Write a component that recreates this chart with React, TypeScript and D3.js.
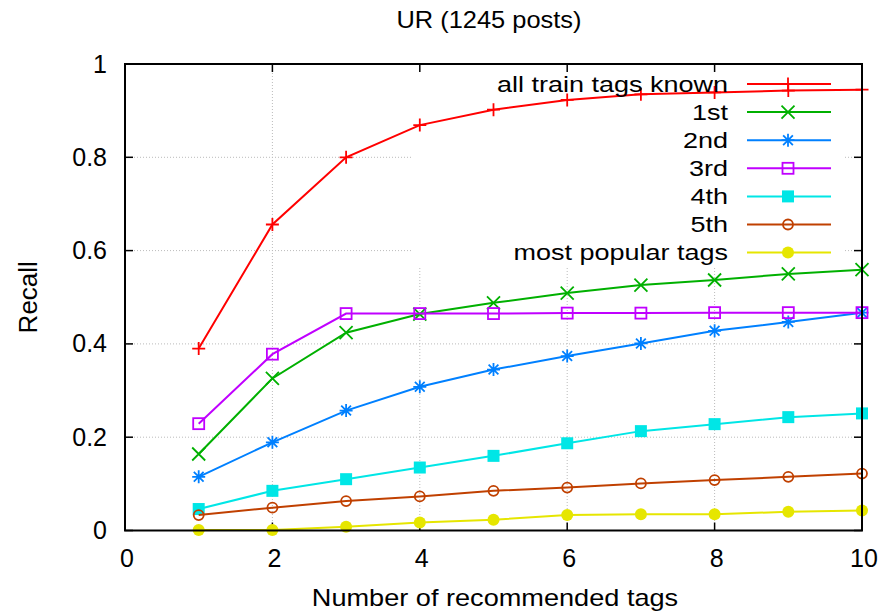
import React from "react";
import * as d3 from "d3";

// chart values
const xValues = [1, 2, 3, 4, 5, 6, 7, 8, 9, 10];
const seriesNames = ["all train tags known", "1st", "2nd", "3rd", "4th", "5th", "most popular tags"];
const allKnown = [0.39, 0.656, 0.8, 0.869, 0.902, 0.923, 0.935, 0.939, 0.943, 0.945];
const first = [0.164, 0.326, 0.424, 0.464, 0.488, 0.509, 0.526, 0.537, 0.55, 0.559];
const second = [0.115, 0.189, 0.257, 0.308, 0.345, 0.374, 0.401, 0.428, 0.447, 0.467];
const third = [0.229, 0.378, 0.465, 0.465, 0.465, 0.466, 0.466, 0.467, 0.467, 0.467];
const fourth = [0.046, 0.085, 0.11, 0.135, 0.16, 0.187, 0.213, 0.228, 0.243, 0.251];
const fifth = [0.033, 0.049, 0.063, 0.073, 0.085, 0.092, 0.101, 0.108, 0.115, 0.122];
const popular = [0.001, 0.001, 0.008, 0.017, 0.023, 0.033, 0.035, 0.035, 0.04, 0.043];
const xTicks = [0, 2, 4, 6, 8, 10];
const yTicks = [0, 0.2, 0.4, 0.6, 0.8, 1];

const seriesValues = [allKnown, first, second, third, fourth, fifth, popular];
const colors = ["#ff0000", "#00b000", "#0080ff", "#c000ff", "#00e6e6", "#c04000", "#e6e600"];
const markers = ["plus", "cross", "star", "openSquare", "square", "openCircle", "circle"];

const initial = {
  width: 894,
  height: 615,
  left: 125,
  right: 862,
  top: 64,
  bottom: 530.5,
  font: "'Liberation Sans', Arial, sans-serif",
};

const Marker = ({ type, x, y, color }: { type: string; x: number; y: number; color: string }) => {
  const s = 6.5;
  if (type === "plus")
    return <path d={`M${x - s},${y}H${x + s}M${x},${y - s}V${y + s}`} stroke={color} strokeWidth={1.8} fill="none" />;
  if (type === "cross")
    return <path d={`M${x - s},${y - s}L${x + s},${y + s}M${x - s},${y + s}L${x + s},${y - s}`} stroke={color} strokeWidth={1.8} fill="none" />;
  if (type === "star")
    return (
      <path
        d={`M${x - s},${y}H${x + s}M${x},${y - s}V${y + s}M${x - s * 0.75},${y - s * 0.75}L${x + s * 0.75},${y + s * 0.75}M${x - s * 0.75},${y + s * 0.75}L${x + s * 0.75},${y - s * 0.75}`}
        stroke={color}
        strokeWidth={1.8}
        fill="none"
      />
    );
  if (type === "openSquare")
    return <rect x={x - 5.5} y={y - 5.5} width={11} height={11} stroke={color} strokeWidth={1.8} fill="none" />;
  if (type === "square")
    return <rect x={x - 6} y={y - 6} width={12} height={12} fill={color} />;
  if (type === "openCircle")
    return <circle cx={x} cy={y} r={5} stroke={color} strokeWidth={1.8} fill="none" />;
  return <circle cx={x} cy={y} r={6} fill={color} />;
};

export default function App() {
  const xScale = d3.scaleLinear().domain([0, 10]).range([initial.left, initial.right]);
  const yScale = d3.scaleLinear().domain([0, 1]).range([initial.bottom, initial.top]);
  const line = d3
    .line<number>()
    .x((_, i) => xScale(xValues[i]))
    .y((d) => yScale(d));

  // legend placement
  const legendRight = 728;
  const legendTop = 84;
  const legendStep = 28.1;
  const sampleX1 = 747;
  const sampleX2 = 831;
  const sampleMid = 788;

  return (
    <svg width={initial.width} height={initial.height} style={{ position: "absolute", left: 0, top: 0 }}>
      <rect width={initial.width} height={initial.height} fill="#fff" />

      {/* grid */}
      <g stroke="#bbb" strokeWidth={1} strokeDasharray="1,2">
        {xTicks.slice(1, -1).map((t) => (
          <line key={"gx" + t} x1={xScale(t)} x2={xScale(t)} y1={initial.top} y2={initial.bottom} />
        ))}
        {yTicks.slice(1, -1).map((t) => (
          <line key={"gy" + t} x1={initial.left} x2={initial.right} y1={yScale(t)} y2={yScale(t)} />
        ))}
      </g>

      {/* legend box hides grid */}
      <rect x={413} y={initial.top + 1} width={432} height={202} fill="#fff" />

      {/* ticks */}
      <g stroke="#000" strokeWidth={1.5}>
        {xTicks.map((t) => (
          <g key={"tx" + t}>
            <line x1={xScale(t)} x2={xScale(t)} y1={initial.bottom} y2={initial.bottom - 8} />
            <line x1={xScale(t)} x2={xScale(t)} y1={initial.top} y2={initial.top + 8} />
          </g>
        ))}
        {yTicks.map((t) => (
          <g key={"ty" + t}>
            <line x1={initial.left} x2={initial.left + 8} y1={yScale(t)} y2={yScale(t)} />
            <line x1={initial.right} x2={initial.right - 8} y1={yScale(t)} y2={yScale(t)} />
          </g>
        ))}
      </g>

      {/* tick labels */}
      <g fontFamily={initial.font} fontSize={25} fill="#000">
        {xTicks.map((t) => (
          <text key={"lx" + t} x={xScale(t) + 2} y={566.5} textAnchor="middle">
            {t}
          </text>
        ))}
        {yTicks.map((t) => (
          <text key={"ly" + t} x={107} y={yScale(t) + 8.5} textAnchor="end">
            {t}
          </text>
        ))}
      </g>

      {/* titles */}
      <text x={489} y={28.3} textAnchor="middle" fontFamily={initial.font} fontSize={24.5} textLength={185} lengthAdjust="spacingAndGlyphs">
        UR (1245 posts)
      </text>
      <text
        transform={`translate(495,606) scale(1.18,1)`}
        textAnchor="middle"
        fontFamily={initial.font}
        fontSize={23}
      >
        Number of recommended tags
      </text>
      <text
        transform={`translate(37,${(initial.top + initial.bottom) / 2}) rotate(-90)`}
        textAnchor="middle"
        fontFamily={initial.font}
        fontSize={26}
      >
        Recall
      </text>

      {/* series */}
      {seriesValues.map((vals, si) => (
        <g key={"s" + si}>
          <path d={line(vals) || ""} stroke={colors[si]} strokeWidth={2} fill="none" />
          {vals.map((v, i) => (
            <Marker key={i} type={markers[si]} x={xScale(xValues[i])} y={yScale(v)} color={colors[si]} />
          ))}
        </g>
      ))}

      {/* legend */}
      {seriesNames.map((name, si) => {
        const y = legendTop + si * legendStep;
        return (
          <g key={"lg" + si}>
            <text
              transform={`translate(${legendRight},${y + 7.6}) scale(1.2,1)`}
              textAnchor="end"
              fontFamily={initial.font}
              fontSize={22.5}
            >
              {name}
            </text>
            <line x1={sampleX1} x2={sampleX2} y1={y} y2={y} stroke={colors[si]} strokeWidth={2} />
            <Marker type={markers[si]} x={sampleMid} y={y} color={colors[si]} />
          </g>
        );
      })}

      {/* frame */}
      <rect
        x={initial.left}
        y={initial.top}
        width={initial.right - initial.left}
        height={initial.bottom - initial.top}
        fill="none"
        stroke="#000"
        strokeWidth={2}
      />
    </svg>
  );
}
